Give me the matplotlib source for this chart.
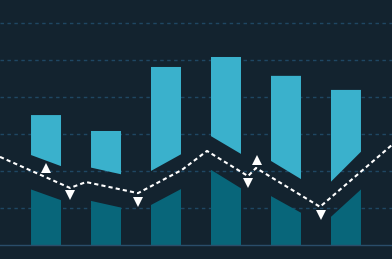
import numpy as np
import matplotlib
matplotlib.use("Agg")
import matplotlib.pyplot as plt

# Colours
bg_color = "#13232f"
upper_color = "#3ab1cc"
lower_color = "#08667a"
grid_color = "#1f4763"
base_color = "#2a4d6a"

# Bar data (one bar per category, split around the dashed line)
categories = np.arange(6)
bar_top = [35.2, 30.9, 48.2, 50.9, 45.8, 42.0]
upper_bottom_left = [24.4, 21.0, 20.1, 29.5, 22.8, 17.2]
upper_bottom_right = [21.4, 19.2, 24.6, 24.7, 17.9, 25.3]
lower_top_left = [15.1, 12.0, 10.9, 20.4, 13.3, 7.7]
lower_top_right = [12.2, 10.2, 15.2, 15.4, 8.8, 15.1]

# Dashed line
line_x = [-0.767, 0.4, 0.667, 1.533, 2.267, 2.683, 3.367, 3.5, 4.567, 5.8]
line_y = [23.9, 15.5, 17.1, 14.1, 20.4, 25.5, 18.7, 20.9, 10.4, 27.6]

# Markers
up_x = [0.0, 3.517]
up_y = [20.8, 23.0]
down_x = [0.4, 1.533, 3.367, 4.583]
down_y = [13.5, 11.6, 16.8, 8.1]

grid_levels = [10, 20, 30, 40, 50, 60]

fig = plt.figure(figsize=(3.92, 2.59), dpi=100)
fig.patch.set_facecolor(bg_color)
ax = fig.add_axes([0, 0, 1, 1])
ax.set_facecolor(bg_color)

# Gridlines
for g in grid_levels:
    ax.axhline(g, color=grid_color, linewidth=1.0, linestyle=(0, (2.5, 2.5)), zorder=1)
ax.axhline(0, color=base_color, linewidth=1.0, zorder=4)

# Bars
w = 0.25
for i in categories:
    xs = [i - w, i + w, i + w, i - w]
    ax.fill(xs, [0, 0, lower_top_right[i], lower_top_left[i]],
            color=lower_color, linewidth=0, zorder=2)
    ax.fill(xs, [upper_bottom_left[i], upper_bottom_right[i], bar_top[i], bar_top[i]],
            color=upper_color, linewidth=0, zorder=2)

# Dashed line and markers
ax.plot(line_x, line_y, color="white", linewidth=1.5,
        linestyle=(0, (2, 1.5)), zorder=3)
ax.plot(up_x, up_y, linestyle="none", marker="^", markersize=6.5,
        color="white", markeredgewidth=0, zorder=5)
ax.plot(down_x, down_y, linestyle="none", marker="v", markersize=6.5,
        color="white", markeredgewidth=0, zorder=5)

ax.set_xlim(-0.767, 5.767)
ax.set_ylim(-3.7, 66.3)
ax.axis("off")

plt.savefig("out.png", dpi=100, facecolor=bg_color)
